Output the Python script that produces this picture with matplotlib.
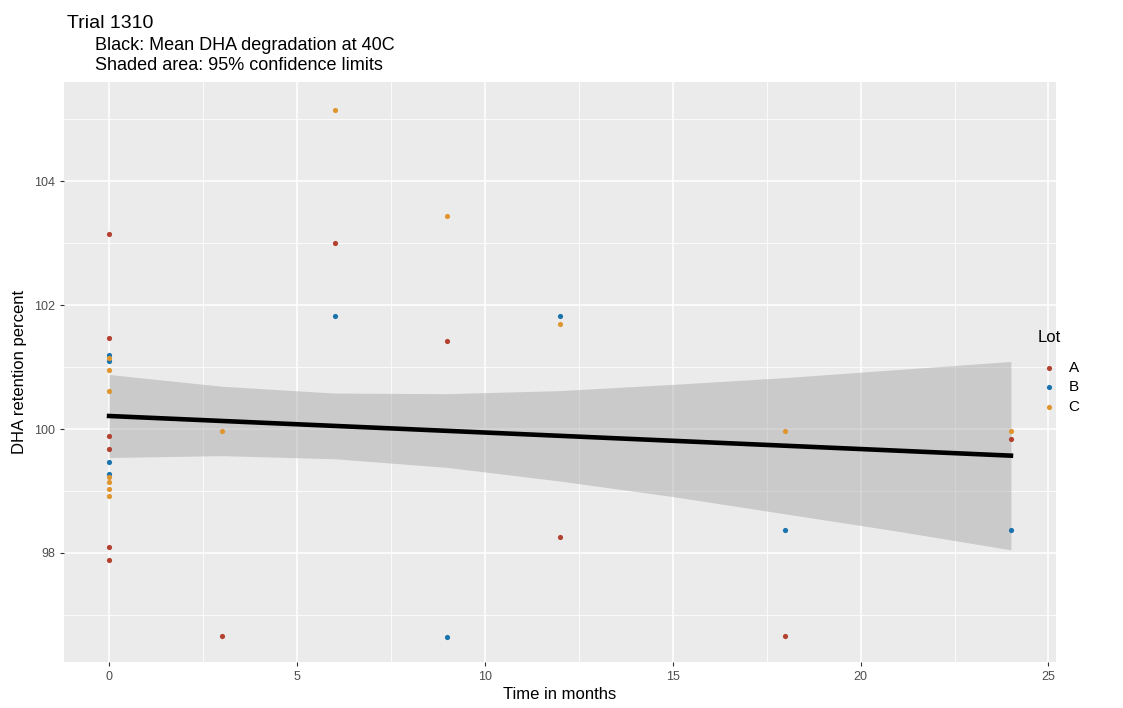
import numpy as np
import matplotlib
matplotlib.use("Agg")
import matplotlib.pyplot as plt
from matplotlib.ticker import MultipleLocator

plt.rcParams['font.family'] = ['Liberation Sans', 'DejaVu Sans']

# data
lots = ['A', 'B', 'C']
colors = {'A': '#b3412f', 'B': '#1b73ad', 'C': '#df962f'}

a_months = [0, 0, 0, 0, 0, 0, 3, 6, 9, 12, 18, 24]
a_dha = [103.15, 101.47, 99.88, 99.68, 98.09, 97.89, 96.66, 103.0, 101.42, 98.26, 96.66, 99.84]

b_months = [0, 0, 0, 0, 6, 9, 12, 18, 24]
b_dha = [101.19, 101.10, 99.47, 99.27, 101.82, 96.65, 101.83, 98.37, 98.37]

c_months = [0, 0, 0, 0, 0, 0, 0, 3, 6, 9, 12, 18, 24]
c_dha = [101.15, 100.96, 100.62, 99.23, 99.15, 99.03, 98.92, 99.96, 105.15, 103.44, 101.69, 99.96, 99.96]

series = {'A': (a_months, a_dha), 'B': (b_months, b_dha), 'C': (c_months, c_dha)}

# mean degradation line and 95% limits
fit_months = [0, 3, 6, 9, 12, 15, 18, 21, 24]
fit_mean = [100.21, 100.13, 100.05, 99.97, 99.89, 99.81, 99.73, 99.65, 99.57]
fit_upper = [100.88, 100.69, 100.58, 100.57, 100.62, 100.72, 100.83, 100.96, 101.09]
fit_lower = [99.54, 99.57, 99.52, 99.38, 99.16, 98.91, 98.63, 98.35, 98.05]

fig = plt.figure(figsize=(11.23, 7.08), dpi=100)
ax = fig.add_axes([64 / 1123, 1 - 662 / 708, (1056 - 64) / 1123, (662 - 82) / 708])
ax.set_facecolor('#ebebeb')

ax.xaxis.set_major_locator(MultipleLocator(5))
ax.xaxis.set_minor_locator(MultipleLocator(2.5))
ax.yaxis.set_major_locator(MultipleLocator(2))
ax.yaxis.set_minor_locator(MultipleLocator(1))
ax.grid(which='major', color='white', lw=1.1)
ax.grid(which='minor', color='white', lw=0.55)
ax.set_axisbelow(True)

handles = []
for lot in lots:
    mx, my = series[lot]
    h = ax.scatter(mx, my, s=14, color=colors[lot], label=lot, zorder=3, linewidths=0)
    handles.append(h)

ax.fill_between(fit_months, fit_lower, fit_upper, color='#999999', alpha=0.4, lw=0, zorder=2)
ax.plot(fit_months, fit_mean, color='black', lw=3.3, zorder=4)

ax.set_xlim(-1.2, 25.2)
ax.set_ylim(96.24, 105.6)

for sp in ax.spines.values():
    sp.set_visible(False)
ax.tick_params(which='major', length=3, color='#333333', labelcolor='#4d4d4d', labelsize=9)
ax.tick_params(which='minor', length=0)

ax.set_xlabel('Time in months', fontsize=12, color='black', labelpad=3)
ax.set_ylabel('DHA retention percent', fontsize=12, color='black', labelpad=5)

fig.text(67 / 1123, 1 - 28 / 708, 'Trial 1310', fontsize=14, va='baseline', ha='left')
fig.text(95 / 1123, 1 - 50 / 708, 'Black: Mean DHA degradation at 40C', fontsize=13, va='baseline', ha='left')
fig.text(95 / 1123, 1 - 70 / 708, 'Shaded area: 95% confidence limits', fontsize=13, va='baseline', ha='left')

fig.text(1038 / 1123, 1 - 338 / 708, 'Lot', fontsize=12, va='center', ha='left')
ax.legend(handles=handles, labels=lots, loc='upper left',
          bbox_to_anchor=(1032 / 1123, 1 - 355 / 708),
          bbox_transform=fig.transFigure, frameon=False, fontsize=11,
          handletextpad=0.6, labelspacing=0.35, borderaxespad=0, handlelength=1.4)

fig.savefig('out.png', dpi=100)
